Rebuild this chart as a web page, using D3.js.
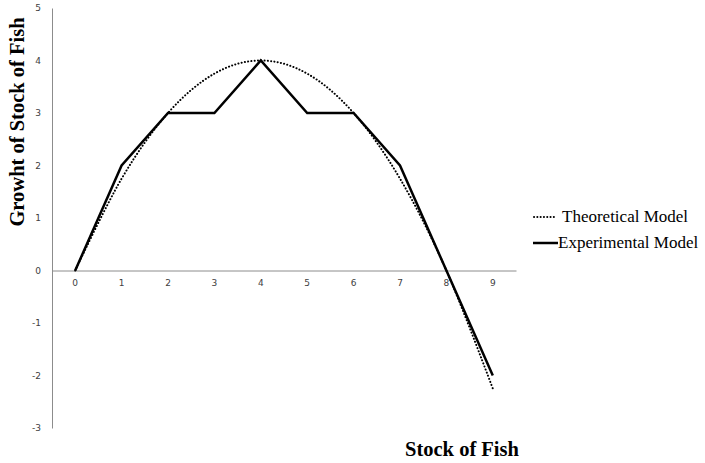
<!DOCTYPE html>
<html>
<head>
<meta charset="utf-8">
<script src="https://cdn.jsdelivr.net/npm/d3@7"></script>
<style>
html,body{margin:0;padding:0;background:#fff;}
svg{display:block;}
</style>
</head>
<body>
<svg id="chart" width="705" height="463"></svg>
<script>
const categories = [0,1,2,3,4,5,6,7,8,9];
const theoretical = [0,1.75,3,3.75,4,3.75,3,1.75,0,-2.25];
const experimental = [0,2,3,3,4,3,3,2,0,-2];
const yTicks = [-3,-2,-1,0,1,2,3,4,5];
const seriesNames = ["Theoretical Model","Experimental Model"];

const svg = d3.select("#chart");
const x = d3.scaleBand().domain(categories).range([52,516]);
const y = d3.scaleLinear().domain([-3,5]).range([428,8]);
const cx = d => x(d) + x.bandwidth()/2;

// y axis
const yAxis = d3.axisLeft(y).tickValues(yTicks).tickSize(0).tickPadding(11).tickFormat(d => String(d));
const gy = svg.append("g").attr("transform","translate(52,0)").call(yAxis);
gy.select(".domain").attr("stroke","#8c8c8c").attr("stroke-width",1);
gy.selectAll("text").attr("font-family","'DejaVu Sans',sans-serif").attr("font-size",9).attr("fill","#404040");

// x axis at y=0
const xAxis = d3.axisBottom(x).tickSize(0).tickPadding(9);
const gx = svg.append("g").attr("transform",`translate(0,${y(0)})`).call(xAxis);
gx.select(".domain").attr("stroke","#8c8c8c").attr("stroke-width",1);
gx.selectAll("text").attr("font-family","'DejaVu Sans',sans-serif").attr("font-size",9).attr("fill","#404040");

// theoretical smooth dotted line
const lineSmooth = d3.line().x((d,i)=>cx(categories[i])).y(d=>y(d)).curve(d3.curveCatmullRom.alpha(0));
svg.append("path").datum(theoretical).attr("d",lineSmooth)
  .attr("fill","none").attr("stroke","#000").attr("stroke-width",2)
  .attr("stroke-dasharray","0.1 3.2").attr("stroke-linecap","round");

// experimental solid
const lineStraight = d3.line().x((d,i)=>cx(categories[i])).y(d=>y(d));
svg.append("path").datum(experimental).attr("d",lineStraight)
  .attr("fill","none").attr("stroke","#000").attr("stroke-width",2.5)
  .attr("stroke-linejoin","miter");

// axis titles
svg.append("text").attr("transform","translate(24,122) rotate(-90)")
  .attr("text-anchor","middle").attr("font-family","'Liberation Serif',serif")
  .attr("font-weight","bold").attr("font-size",20.5).text("Growht of Stock of Fish");
svg.append("text").attr("x",462).attr("y",456)
  .attr("text-anchor","middle").attr("font-family","'Liberation Serif',serif")
  .attr("font-weight","bold").attr("font-size",20.5).text("Stock of Fish");

// legend
const leg = svg.append("g");
const legY = [217,243];
leg.append("line").attr("x1",534).attr("x2",557).attr("y1",legY[0]).attr("y2",legY[0])
  .attr("stroke","#000").attr("stroke-width",2).attr("stroke-dasharray","0.1 3.2").attr("stroke-linecap","round");
leg.append("line").attr("x1",533).attr("x2",558).attr("y1",legY[1]).attr("y2",legY[1])
  .attr("stroke","#000").attr("stroke-width",2.5);
seriesNames.forEach((n,i)=>{
  leg.append("text").attr("x",[562,558][i]).attr("y",legY[i]+5)
    .attr("font-family","'Liberation Serif',serif").attr("font-size",17).attr("fill","#000").text(n);
});
</script>
</body>
</html>
